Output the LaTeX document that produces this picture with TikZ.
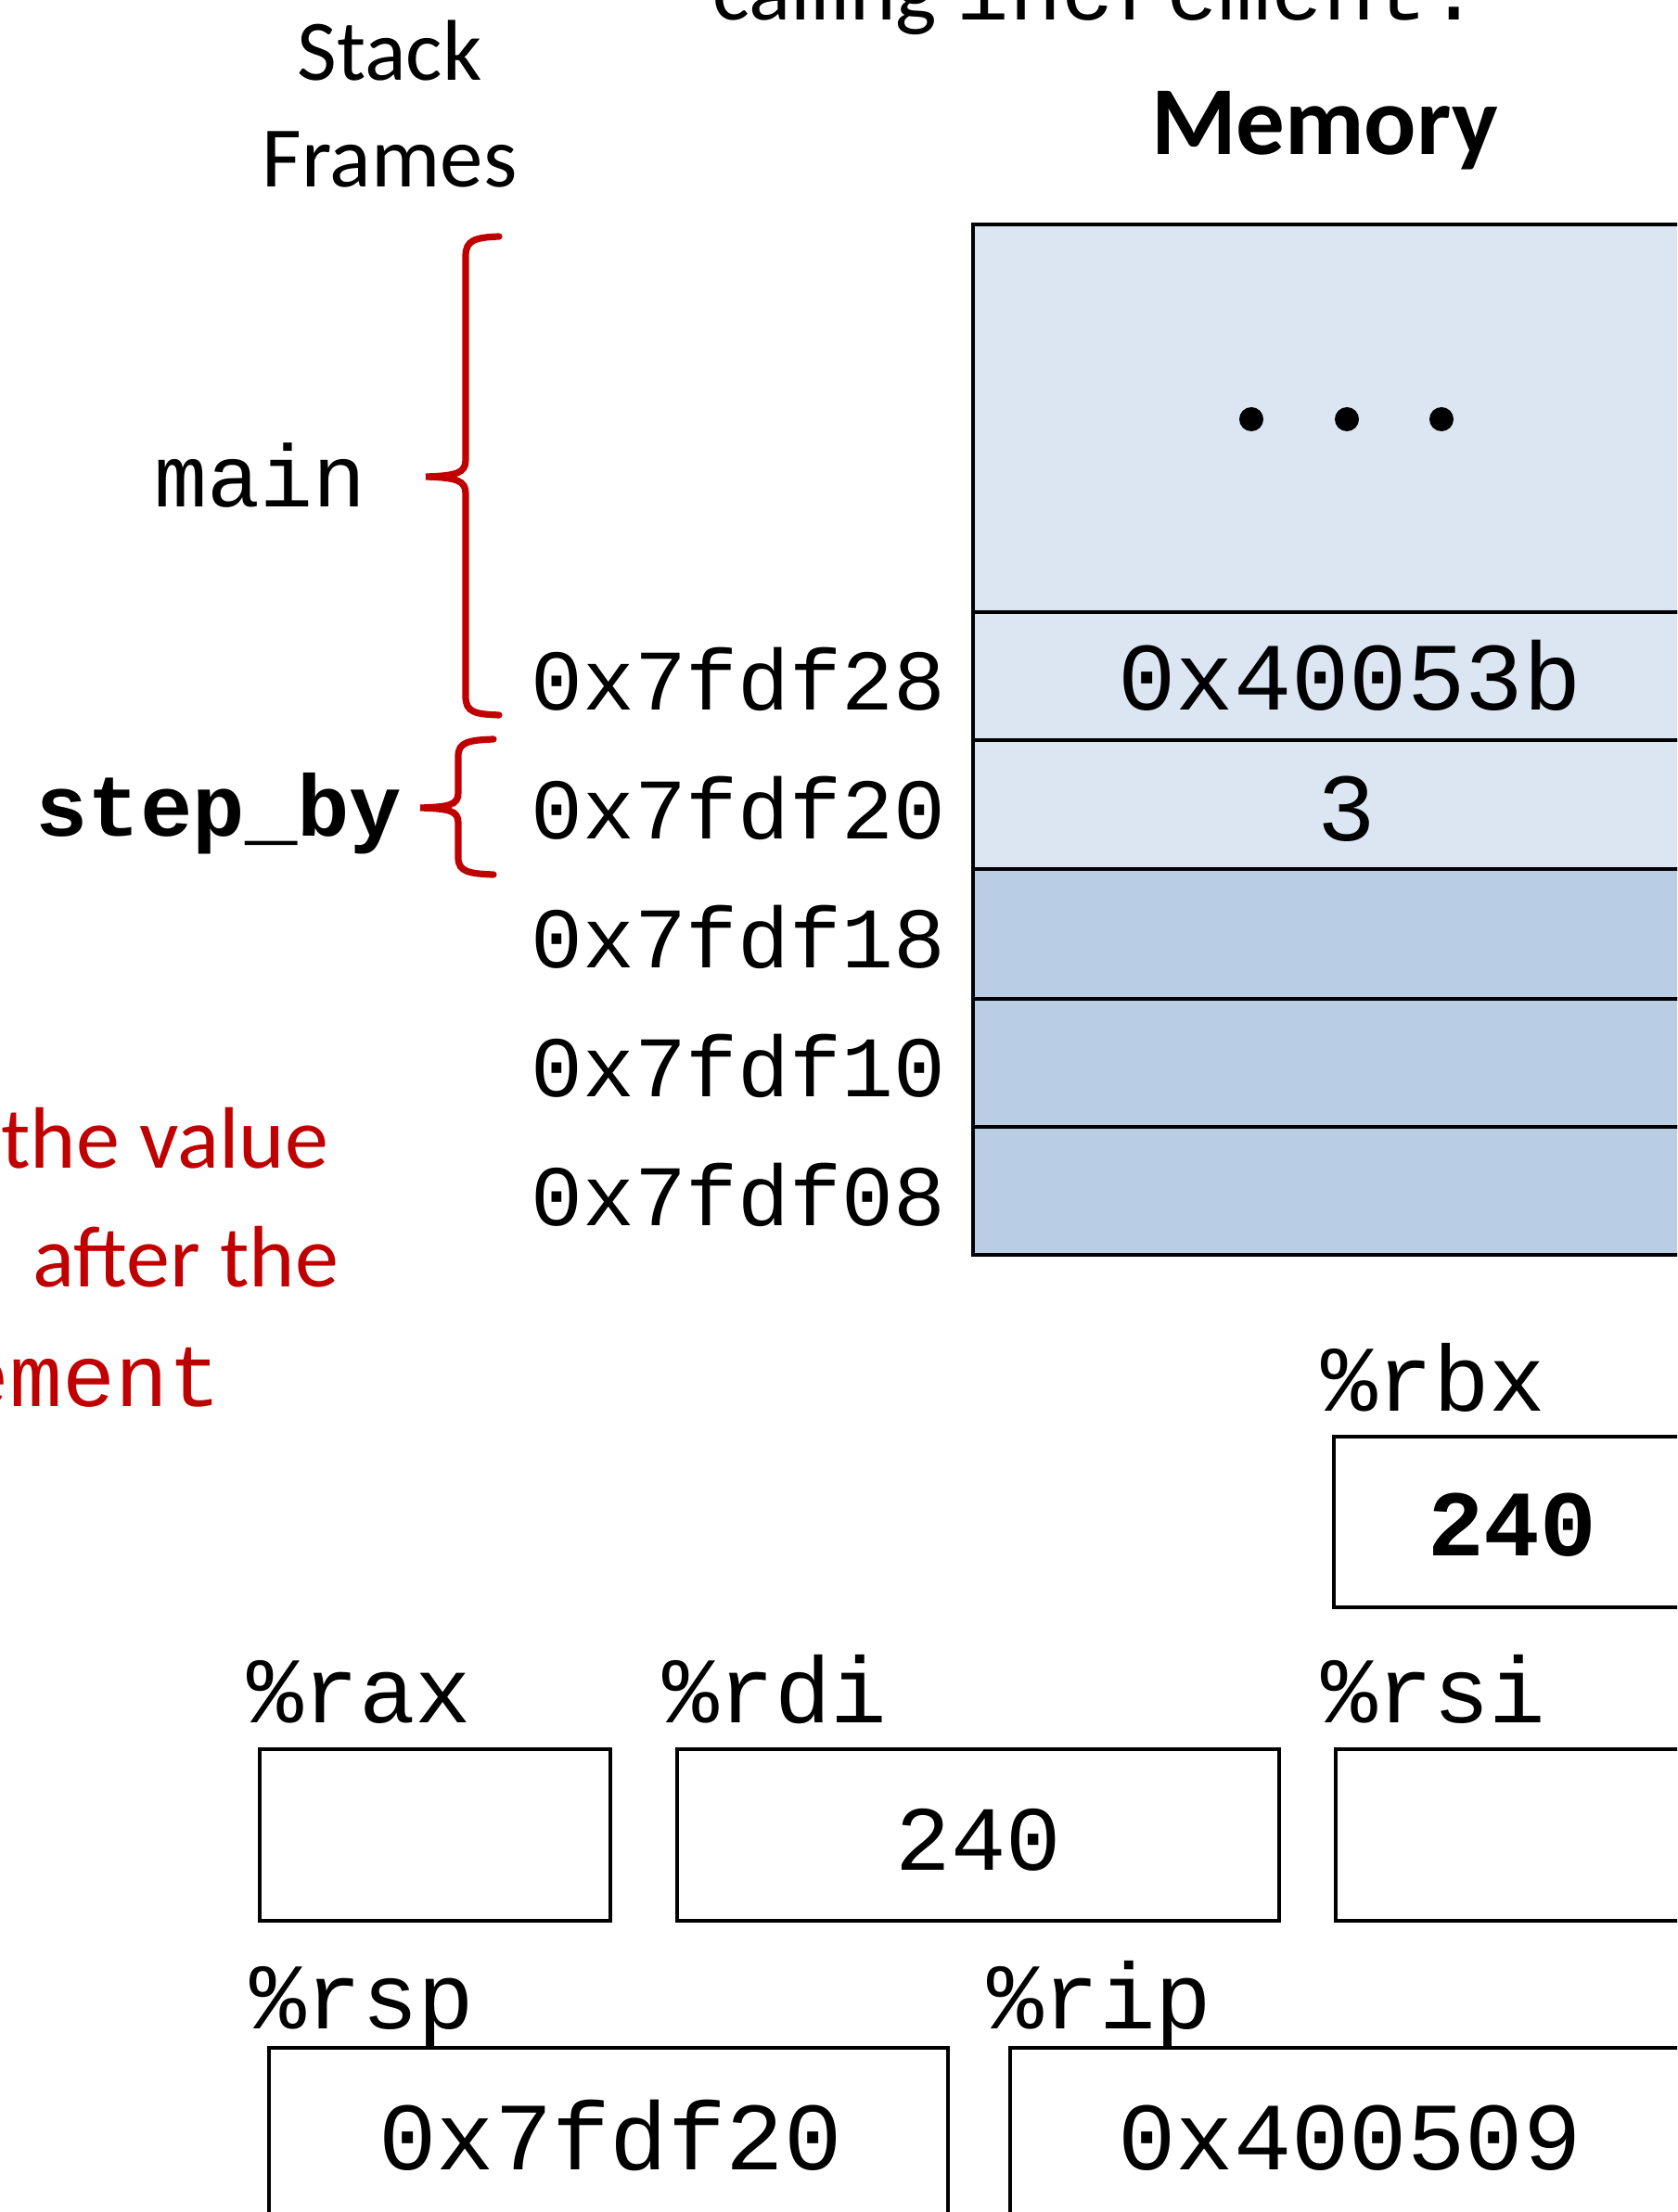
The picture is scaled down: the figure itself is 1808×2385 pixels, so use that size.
\documentclass[tikz,border=0pt]{standalone}
\usepackage{fontspec}
\setmainfont{Carlito}
\newfontfamily\mono{Liberation Mono}
\definecolor{memlight}{HTML}{DCE6F2}
\definecolor{memdark}{HTML}{B9CDE5}
\definecolor{fred}{HTML}{C00000}
\begin{document}
\begin{tikzpicture}[x=0.5pt,y=-0.5pt,
  txt/.style={inner sep=0pt,outer sep=0pt},
  addr/.style={txt,anchor=base east,font=\mono\fontsize{46.5}{50}\selectfont},
  regl/.style={txt,anchor=base west,font=\mono\fontsize{50.5}{54}\selectfont},
  regbox/.style={draw=black,line width=1.6pt},
  memcell/.style={draw=black,line width=2.2pt},
  brace/.style={draw=fred,line width=3.6pt,line cap=round}]
\useasboundingbox (0,0) rectangle (1808,2385);
\clip (0,0) rectangle (1808,2385);

% top texts
\node[txt,anchor=base west] (calling) at (768,22) {\fontsize{47}{50}\selectfont calling \mono increment:};
\node[txt,anchor=base] (stack) at (420,87) {\fontsize{46.5}{50}\selectfont Stack};
\node[txt,anchor=base] (frames) at (420,202) {\fontsize{46.5}{50}\selectfont Frames};
\node[txt,anchor=base] (memory) at (1428,167) {\fontsize{52.5}{56}\selectfont\bfseries Memory};

% memory cells
\filldraw[memcell,fill=memlight] (1049,242) rectangle (1840,660);
\filldraw[memcell,fill=memlight] (1049,660) rectangle (1840,798);
\filldraw[memcell,fill=memlight] (1049,798) rectangle (1840,937);
\filldraw[memcell,fill=memdark] (1049,937) rectangle (1840,1077);
\filldraw[memcell,fill=memdark] (1049,1077) rectangle (1840,1215);
\filldraw[memcell,fill=memdark] (1049,1215) rectangle (1840,1353);

\fill (1349,452) circle (13);
\fill (1452,452) circle (13);
\fill (1554,452) circle (13);

\node[txt,anchor=base,font=\mono\fontsize{52}{56}\selectfont] (v28) at (1455,765) {0x40053b};
\node[txt,anchor=base,font=\mono\fontsize{52}{56}\selectfont] (v20) at (1452,906) {3};

% addresses
\node[addr] (a28) at (1019,765) {0x7fdf28};
\node[addr] (a20) at (1019,904) {0x7fdf20};
\node[addr] (a18) at (1019,1043) {0x7fdf18};
\node[addr] (a10) at (1019,1182) {0x7fdf10};
\node[addr] (a08) at (1019,1321) {0x7fdf08};

% frames
\node[txt,anchor=base,font=\mono\fontsize{47.5}{50}\selectfont] (mainl) at (281,547) {main};
\node[txt,anchor=base,font=\mono\bfseries\fontsize{47}{50}\selectfont] (stepl) at (236,901) {step\_by};

\draw[brace] (538,255) .. controls (512,256) and (502,259) .. (502,276) -- (502,496)
  .. controls (502,510) and (492,513) .. (459,514)
  .. controls (492,515) and (502,518) .. (502,532) -- (502,751)
  .. controls (502,768) and (512,770) .. (538,771);
\draw[brace] (532,797) .. controls (506,798) and (494,800) .. (494,815) -- (494,855)
  .. controls (494,868) and (484,870) .. (453,871)
  .. controls (484,872) and (494,874) .. (494,887) -- (494,925)
  .. controls (494,940) and (506,942) .. (532,943);

% red notes
\node[txt,anchor=base east,text=fred,font=\fontsize{47}{50}\selectfont] (n1) at (354,1259) {the value};
\node[txt,anchor=base east,text=fred,font=\fontsize{47}{50}\selectfont] (n2) at (365,1387) {after the};
\node[txt,anchor=base east,text=fred,font=\mono\fontsize{47.5}{50}\selectfont] (n3) at (239,1516) {ement};

% registers
\node[regl] (lrbx) at (1424,1521) {\%rbx};
\draw[regbox] (1438,1549) rectangle (1840,1733);
\node[txt,anchor=base,font=\mono\bfseries\fontsize{50.5}{54}\selectfont] (vrbx) at (1630,1677) {240};

\node[regl] (lrax) at (266,1857) {\%rax};
\draw[regbox] (280,1886) rectangle (658,2071);
\node[regl] (lrdi) at (714,1857) {\%rdi};
\draw[regbox] (730,1886) rectangle (1379,2071);
\node[txt,anchor=base,font=\mono\fontsize{49.5}{54}\selectfont] (vrdi) at (1055,2016) {240};
\node[regl] (lrsi) at (1424,1857) {\%rsi};
\draw[regbox] (1440,1886) rectangle (1840,2071);

\node[regl] (lrsp) at (269,2187) {\%rsp};
\draw[regbox] (290,2208) rectangle (1022,2450);
\node[txt,anchor=base,font=\mono\fontsize{52}{56}\selectfont] (vrsp) at (658,2339) {0x7fdf20};
\node[regl] (lrip) at (1064,2187) {\%rip};
\draw[regbox] (1089,2208) rectangle (1840,2450);
\node[txt,anchor=base,font=\mono\fontsize{52}{56}\selectfont] (vrip) at (1455,2339) {0x400509};
\end{tikzpicture}
\end{document}
